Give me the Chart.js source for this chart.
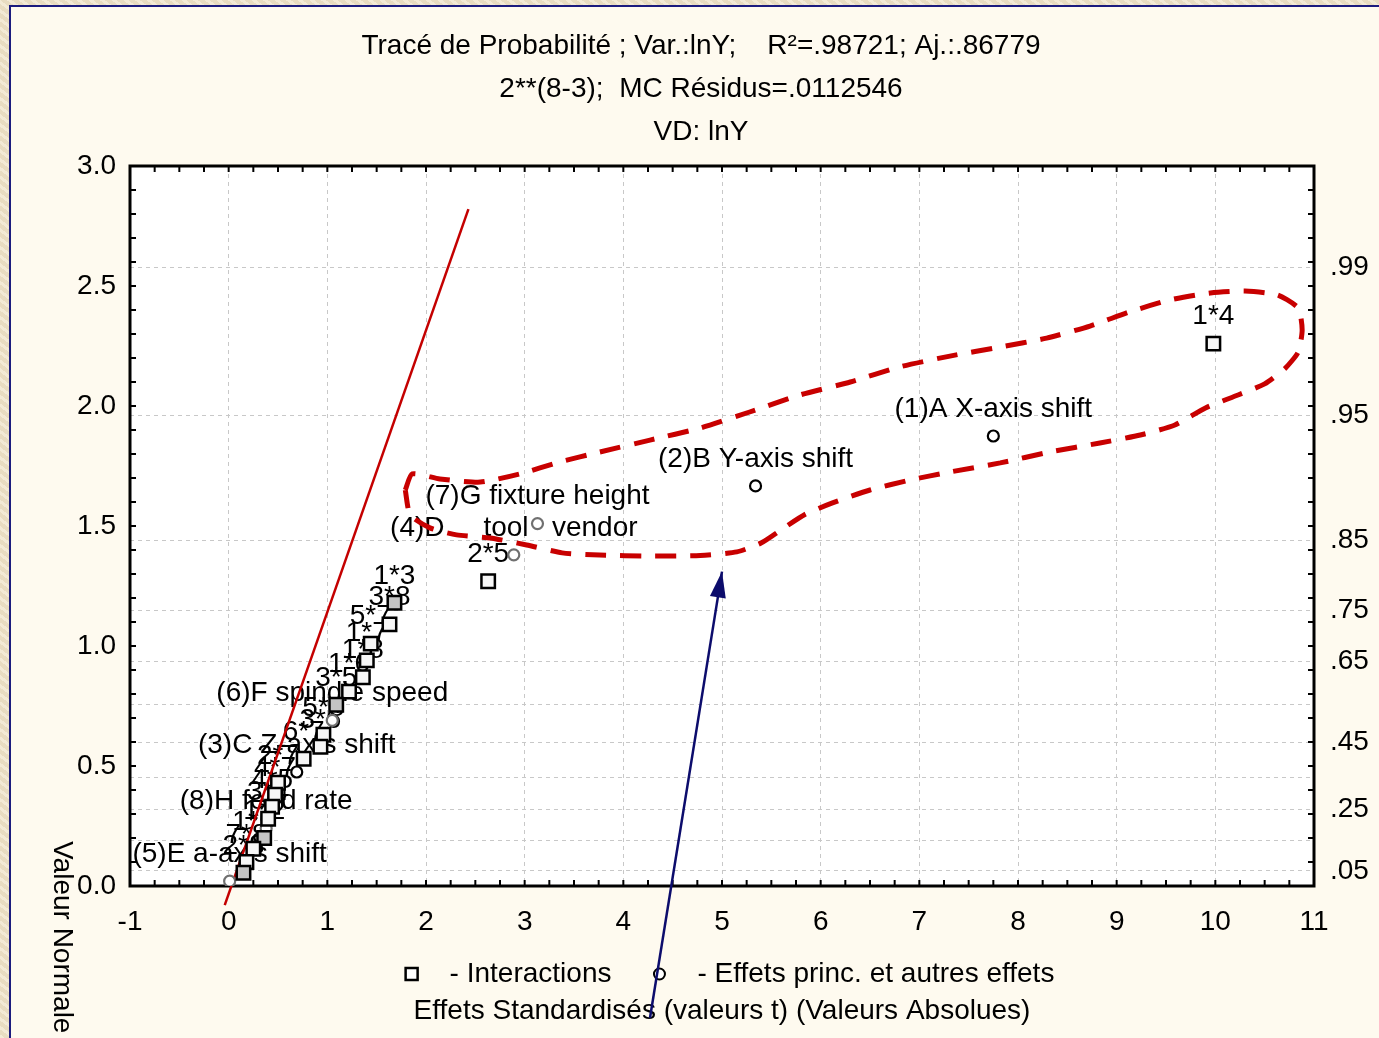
<!DOCTYPE html>
<html>
<head>
<meta charset="utf-8">
<script src="https://cdn.jsdelivr.net/npm/chart.js@4.4.1/dist/chart.umd.min.js"></script>
<style>
  html, body { margin: 0; padding: 0; width: 1379px; height: 1038px; overflow: hidden; }
  body {
    background-color: #efe3c7;
    background-image: repeating-linear-gradient(37deg, rgba(255,255,255,0.25) 0 3px, rgba(0,0,0,0.03) 3px 7px);
  }
  #frame { position: absolute; left: 9px; top: 5px; width: 1380px; height: 1040px;
           border: 2px solid #1b1b7e; background: #fefaef; }
  canvas { display: block; }
</style>
</head>
<body>
<div id="frame"><canvas id="myChart" width="1380" height="1040"></canvas></div>
<script>
// Interactions (squares)
const interLabels = ['1*4', '2*5', '1*3', '3*8', '5*7', '1*7', '1*8', '1*6', '3*5', '5*8',
                     '3*6', '6*7', '2*7', '4*7', '4*5', '3*4', '1*2', '1*5', '7*8', '2*8'];
const interX = [9.98, 2.63, 1.68, 1.63, 1.44, 1.40, 1.36, 1.22, 1.09, 0.96,
                0.93, 0.76, 0.50, 0.47, 0.44, 0.40, 0.36, 0.25, 0.18, 0.15];
const interY = [2.26, 1.27, 1.18, 1.09, 1.01, 0.94, 0.87, 0.81, 0.755, 0.63,
                0.58, 0.53, 0.43, 0.38, 0.33, 0.28, 0.20, 0.155, 0.10, 0.055];

// Main effects (circles)
const mainLabels = ['(1)A X-axis shift', '(2)B Y-axis shift', '(7)G fixture height', '(4)D     tool   vendor',
                    '(6)F spindle speed', '(3)C Z-axis shift', '(8)H feed rate', '(5)E a-axis shift'];
const mainX = [7.75, 5.34, 3.13, 2.89, 1.05, 0.69, 0.38, 0.01];
const mainY = [1.875, 1.667, 1.51, 1.38, 0.69, 0.475, 0.24, 0.02];

// reference line
const fitX = [-0.04, 2.43];
const fitY = [-0.08, 2.82];

// hand drawn annotations
const loopX = [1.79, 1.86, 2.14, 2.55, 2.95, 3.36, 3.76, 4.27, 4.78, 5.28, 5.79, 6.30, 6.80, 7.31, 7.82, 8.29,
               8.73, 9.13, 9.54, 9.95, 10.30, 10.63, 10.84, 10.88, 10.84, 10.71, 10.50, 10.23, 9.90, 9.59,
               9.24, 8.83, 8.32, 7.82, 7.31, 6.91, 6.50, 6.12, 5.84, 5.62, 5.40, 5.15, 4.78, 4.27, 3.76, 3.38,
               3.02, 2.65, 2.31, 2.04, 1.84, 1.79];
const loopY = [1.650, 1.717, 1.696, 1.683, 1.717, 1.767, 1.808, 1.858, 1.908, 1.975, 2.046, 2.100, 2.163, 2.208,
               2.246, 2.283, 2.333, 2.392, 2.442, 2.471, 2.479, 2.463, 2.408, 2.317, 2.225, 2.158, 2.092, 2.046,
               1.992, 1.921, 1.879, 1.846, 1.808, 1.763, 1.725, 1.692, 1.650, 1.596, 1.548, 1.490, 1.430, 1.392,
               1.377, 1.375, 1.379, 1.388, 1.421, 1.450, 1.463, 1.492, 1.546, 1.650];
const arrowX = [4.27, 5.0];
const arrowY = [-0.55, 1.31];

// right axis: half-normal probabilities
const probPos = [0.063, 0.189, 0.319, 0.454, 0.598, 0.755, 0.935, 1.150, 1.440, 1.960, 2.576];
const probLabels = ['.05', '', '.25', '', '.45', '', '.65', '.75', '.85', '.95', '.99'];

const titleLines = ['Tracé de Probabilité ; Var.:lnY;    R²=.98721; Aj.:.86779',
                    '2**(8-3);  MC Résidus=.0112546',
                    'VD: lnY'];
const legendTexts = ['- Interactions', '- Effets princ. et autres effets'];
const xTitle = 'Effets Standardisés (valeurs t) (Valeurs Absolues)';
const yTitle = 'Valeur Normale';

const FONT = '"Liberation Sans", Arial, sans-serif';
const FS = 28;
const grayInter = [2, 8, 16, 19];
const grayMain = [2, 3, 4, 6, 7];

function pts(xs, ys) {
    return xs.map(function (x, i) { return { x: x, y: ys[i] }; });
}

const decor = {
    id: 'decor',
    beforeDraw(chart) {
        const { ctx, chartArea: a } = chart;
        ctx.save();
        ctx.fillStyle = '#ffffff';
        ctx.fillRect(a.left, a.top, a.width, a.height);
        ctx.restore();
    },
    beforeDatasetsDraw(chart) {
        const { ctx, chartArea: a, scales } = chart;
        ctx.save();
        // frame
        ctx.strokeStyle = '#000';
        ctx.lineWidth = 3;
        ctx.strokeRect(a.left, a.top, a.width, a.height);
        // inward ticks
        ctx.lineWidth = 2;
        ctx.beginPath();
        for (let i = 0; i <= 48; i++) {
            const px = scales.x.getPixelForValue(-1 + i * 0.25);
            ctx.moveTo(px, a.bottom); ctx.lineTo(px, a.bottom - 6);
            ctx.moveTo(px, a.top); ctx.lineTo(px, a.top + 6);
        }
        for (let i = 0; i <= 30; i++) {
            const py = scales.y.getPixelForValue(i * 0.1);
            ctx.moveTo(a.left, py); ctx.lineTo(a.left + 6, py);
            ctx.moveTo(a.right, py); ctx.lineTo(a.right - 6, py);
        }
        ctx.stroke();

        // point labels
        ctx.font = FS + 'px ' + FONT;
        ctx.fillStyle = '#000';
        ctx.textAlign = 'center';
        ctx.textBaseline = 'middle';
        [[0, interLabels], [1, mainLabels]].forEach(function (d) {
            chart.getDatasetMeta(d[0]).data.forEach(function (el, i) {
                ctx.fillText(d[1][i], el.x, el.y - 27);
            });
        });

        // legend
        const w1 = ctx.measureText(legendTexts[0]).width;
        const w2 = ctx.measureText(legendTexts[1]).width;
        const total = 38 + w1 + 48 + 38 + w2;
        const cx = (a.left + a.right) / 2 + 11;
        const ly = 967;
        let x0 = cx - total / 2;
        ctx.textAlign = 'left';
        ctx.fillStyle = '#fff';
        ctx.strokeStyle = '#000';
        ctx.lineWidth = 2.5;
        ctx.fillRect(x0 - 6, ly - 6, 12, 12);
        ctx.strokeRect(x0 - 6, ly - 6, 12, 12);
        ctx.fillStyle = '#000';
        ctx.fillText(legendTexts[0], x0 + 38, ly);
        x0 += 38 + w1 + 48;
        ctx.beginPath();
        ctx.arc(x0, ly, 5.5, 0, Math.PI * 2);
        ctx.fillStyle = '#fff';
        ctx.fill();
        ctx.lineWidth = 2;
        ctx.stroke();
        ctx.fillStyle = '#000';
        ctx.fillText(legendTexts[1], x0 + 38, ly);

        // y axis title (rotated)
        ctx.translate(51, 834);
        ctx.rotate(Math.PI / 2);
        ctx.textAlign = 'left';
        ctx.fillText(yTitle, 0, 0);
        ctx.restore();
    },
    afterDatasetsDraw(chart) {
        const { ctx } = chart;
        const p = chart.getDatasetMeta(4).data;
        if (p.length < 2) return;
        const a = p[0], b = p[1];
        const ang = Math.atan2(b.y - a.y, b.x - a.x);
        const L = 26, W = 8;
        ctx.save();
        ctx.fillStyle = '#0c0c6c';
        ctx.beginPath();
        ctx.moveTo(b.x, b.y);
        ctx.lineTo(b.x - L * Math.cos(ang) - W * Math.sin(ang), b.y - L * Math.sin(ang) + W * Math.cos(ang));
        ctx.lineTo(b.x - L * Math.cos(ang) + W * Math.sin(ang), b.y - L * Math.sin(ang) - W * Math.cos(ang));
        ctx.closePath();
        ctx.fill();
        ctx.restore();
    }
};

const ctx = document.getElementById('myChart').getContext('2d');
new Chart(ctx, {
    type: 'scatter',
    data: {
        datasets: [{
            label: 'Interactions',
            data: pts(interX, interY),
            pointStyle: 'rect',
            pointRadius: 9.5,
            pointHoverRadius: 9.5,
            borderWidth: 2.5,
            borderColor: '#000',
            backgroundColor: interX.map(function (v, i) { return grayInter.indexOf(i) >= 0 ? '#c4c4c4' : '#f6f6f6'; })
        }, {
            label: 'Effets princ.',
            data: pts(mainX, mainY),
            pointStyle: 'circle',
            pointRadius: 5.5,
            pointHoverRadius: 5.5,
            borderWidth: 2.2,
            borderColor: mainX.map(function (v, i) { return grayMain.indexOf(i) >= 0 ? '#707070' : '#000'; }),
            backgroundColor: '#fff'
        }, {
            data: pts(fitX, fitY),
            showLine: true,
            pointRadius: 0,
            borderColor: '#c40000',
            borderWidth: 2.5,
            clip: false
        }, {
            data: pts(loopX, loopY),
            showLine: true,
            pointRadius: 0,
            borderColor: '#c80000',
            borderWidth: 5,
            borderDash: [21, 14],
            tension: 0.2,
            clip: false
        }, {
            data: pts(arrowX, arrowY),
            showLine: true,
            pointRadius: 0,
            borderColor: '#0c0c6c',
            borderWidth: 2.5,
            clip: false
        }]
    },
    options: {
        responsive: false,
        animation: false,
        events: [],
        devicePixelRatio: 1,
        layout: { padding: 0 },
        plugins: {
            legend: { display: false },
            tooltip: { enabled: false },
            title: {
                display: true,
                text: titleLines,
                color: '#000',
                font: { family: FONT, size: FS, weight: 'normal', lineHeight: 43 / FS },
                padding: { top: 18, bottom: 12 }
            }
        },
        scales: {
            x: {
                type: 'linear',
                min: -1, max: 11,
                ticks: { stepSize: 1, color: '#000', font: { family: FONT, size: FS }, padding: 19 },
                grid: { color: '#c8c8c8', lineWidth: 1, drawTicks: false },
                border: { display: false, dash: [4, 4] },
                title: { display: true, text: xTitle, color: '#000',
                         font: { family: FONT, size: FS }, padding: { top: 0, bottom: 19 } },
                afterFit(scale) { scale.height = 161; }
            },
            y: {
                type: 'linear', position: 'left',
                min: 0, max: 3,
                ticks: { stepSize: 0.5, color: '#000', font: { family: FONT, size: FS }, padding: 14,
                         callback: function (v) { return v.toFixed(1); } },
                grid: { drawOnChartArea: false, drawTicks: false },
                border: { display: false },
                afterFit(scale) { scale.width = 119; }
            },
            y2: {
                type: 'linear', position: 'right',
                min: 0, max: 3,
                afterBuildTicks(scale) { scale.ticks = probPos.map(function (v) { return { value: v }; }); },
                ticks: { autoSkip: false, color: '#000', font: { family: FONT, size: FS }, padding: 16,
                         callback: function (v, i) { return probLabels[i]; } },
                grid: { color: '#c8c8c8', lineWidth: 1, drawTicks: false },
                border: { display: false, dash: [4, 4] },
                afterFit(scale) { scale.width = 77; }
            }
        }
    },
    plugins: [decor]
});
</script>
</body>
</html>
